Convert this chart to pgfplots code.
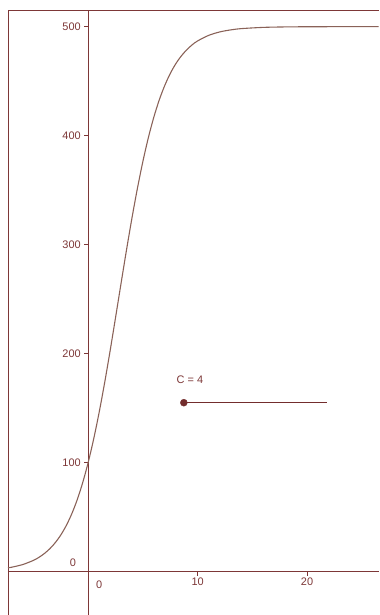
\documentclass[border=0pt]{standalone}
\usepackage{pgfplots}
\pgfplotsset{compat=1.18}
\usepackage{fontspec}
\setmainfont{Liberation Sans}
\definecolor{axc}{RGB}{125,55,55}
\definecolor{crv}{RGB}{138,98,88}
\definecolor{dot}{RGB}{115,45,45}
\begin{document}
\begin{tikzpicture}
\begin{axis}[
  scale only axis, width=371bp, height=605bp,
  xmin=-7.33, xmax=26.55, ymin=-39.7, ymax=515.3,
  axis lines=middle, axis line style={axc, line width=0.9pt, -},
  xtick={10,20}, ytick={100,200,300,400,500},
  major tick length=0pt,
  tick label style={text=axc, font=\fontsize{11}{13}\selectfont},
  /pgf/number format/assume math mode=true,
  xticklabel style={yshift=-3bp},
  yticklabel style={xshift=-4bp},
  clip=false,
]
\draw[axc, line width=0.9pt] (axis cs:-7.33,-39.7) -- (axis cs:-7.33,515.3) -- (axis cs:26.55,515.3);
\draw[axc, line width=0.9pt] (axis cs:10,0) -- ([yshift=-4.5bp]axis cs:10,0);
\draw[axc, line width=0.9pt] (axis cs:20,0) -- ([yshift=-4.5bp]axis cs:20,0);
\draw[axc, line width=0.9pt] (axis cs:0,100) -- ([xshift=-4.5bp]axis cs:0,100);
\draw[axc, line width=0.9pt] (axis cs:0,200) -- ([xshift=-4.5bp]axis cs:0,200);
\draw[axc, line width=0.9pt] (axis cs:0,300) -- ([xshift=-4.5bp]axis cs:0,300);
\draw[axc, line width=0.9pt] (axis cs:0,400) -- ([xshift=-4.5bp]axis cs:0,400);
\draw[axc, line width=0.9pt] (axis cs:0,500) -- ([xshift=-4.5bp]axis cs:0,500);
\addplot[crv, line width=1.1pt, smooth] coordinates {
(-7.33,3.2) (-7,3.75) (-6,6.15) (-5,10.05) (-4.5,12.84) (-4,16.36) (-3.5,20.82) (-3,26.42) (-2.5,33.42) (-2,42.11) (-1.5,52.81) (-1,65.83) (-0.5,81.49) (0,100) (0.5,121.5) (1,145.9) (1.5,173.0) (2,202.3) (2.5,233.0) (3,264.2) (3.5,295.0) (4,324.4) (4.5,351.7) (5,376.4) (5.5,398.2) (6,417.0) (6.5,432.9) (7,446.1) (7.5,457.0) (8,465.9) (8.5,473.0) (9,478.7) (9.5,483.3) (10,486.9) (11,491.96) (12,495.1) (13,497.0) (14,498.2) (16,499.33) (18,499.75) (20,499.91) (24,499.99) (26.55,500)
};
\addplot[dot, line width=0.9pt] coordinates {(8.74,154.8) (21.8,154.8)};
\addplot[dot, only marks, mark=*, mark size=3.5bp] coordinates {(8.74,154.8)};
\node[text=axc, font=\fontsize{11}{13}\selectfont] at (axis cs:9.3,176) {C = 4};
\node[text=axc, font=\fontsize{11}{13}\selectfont] at (axis cs:1.0,-12.5) {0};
\node[text=axc, font=\fontsize{11}{13}\selectfont] at (axis cs:-1.4,7.5) {0};
\end{axis}
\path (-8bp,0bp) rectangle (371bp,615bp);
\end{tikzpicture}
\end{document}
